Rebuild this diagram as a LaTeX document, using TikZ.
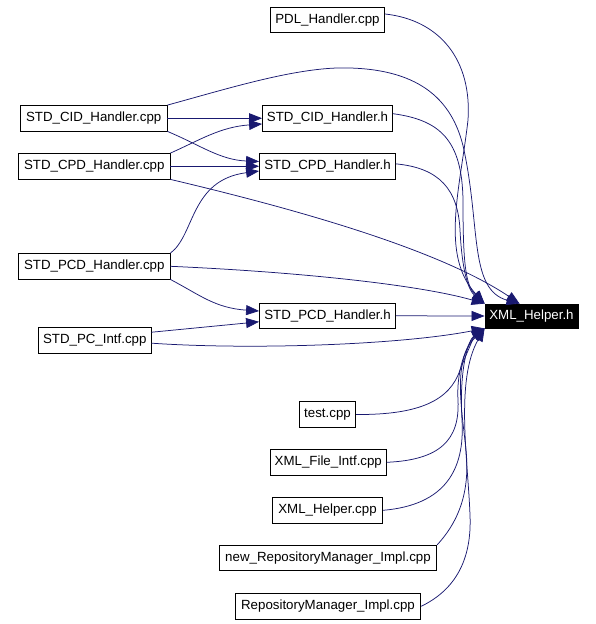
\documentclass[tikz,border=0pt]{standalone}
\usepackage{fontspec}
\setmainfont{Liberation Sans}
\usetikzlibrary{arrows.meta}
\definecolor{edgeblue}{RGB}{25,25,112}
\tikzset{
  box/.style={draw=black, line width=0.8pt, inner sep=0pt, minimum height=25.5pt,
    font=\fontsize{13.3}{16}\selectfont, text=black},
  target/.style={box, fill=black, text=white, minimum height=24pt},
  dep/.style={draw=edgeblue, line width=0.75pt, -{Triangle[length=13pt,width=10pt]}},
}
\begin{document}
\begin{tikzpicture}[x=1pt,y=-1pt]
\useasboundingbox (0,0) rectangle (595,624);
% nodes
\node[box, minimum width=114pt]   (pdl)    at (327.5,20)    {PDL\_Handler.cpp};
\node[box, minimum width=146.5pt] (cidcpp) at (93.75,118.25) {STD\_CID\_Handler.cpp};
\node[box, minimum width=151.5pt] (cpdcpp) at (94.25,166.25) {STD\_CPD\_Handler.cpp};
\node[box, minimum width=130pt]   (cidh)   at (327.5,118.25) {STD\_CID\_Handler.h};
\node[box, minimum width=136pt]   (cpdh)   at (327.5,166.25) {STD\_CPD\_Handler.h};
\node[box, minimum width=151.5pt] (pcdcpp) at (94.25,266.3)  {STD\_PCD\_Handler.cpp};
\node[box, minimum width=112.5pt] (pcintf) at (94.75,340.2)  {STD\_PC\_Intf.cpp};
\node[box, minimum width=136pt]   (pcdh)   at (327.5,315.8)  {STD\_PCD\_Handler.h};
\node[target, minimum width=93pt] (xh)     at (531.5,316)    {XML\_Helper.h};
\node[box, minimum width=56.5pt]  (test)   at (327.5,414.5)  {test.cpp};
\node[box, minimum width=116pt]   (xfile)  at (328.3,462.3)  {XML\_File\_Intf.cpp};
\node[box, minimum width=110.5pt] (xhcpp)  at (327.5,510.3)  {XML\_Helper.cpp};
\node[box, minimum width=217.5pt] (newrepo) at (328,558)     {new\_RepositoryManager\_Impl.cpp};
\node[box, minimum width=185.5pt] (repo)   at (328,606.3)    {RepositoryManager\_Impl.cpp};
% edges
\draw[dep] (pdl.6) .. controls (440,20) and (472,60) .. (468,120)
           .. controls (460,190) and (440,255) .. (xh.north west);
\draw[dep] (cidcpp.east) -- (cidh.west);
\draw[dep] (cidcpp.south east) .. controls (200,145) and (220,160) .. (cpdh.176);
\draw[dep] (cidcpp.north east) .. controls (230,88) and (300,66) .. (350,68)
           .. controls (420,70) and (455,100) .. (465,155)
           .. controls (480,230) and (470,290) .. (xh.134);
\draw[dep] (cpdcpp.north east) .. controls (200,140) and (220,127) .. (cidh.185);
\draw[dep] (cpdcpp.east) -- (cpdh.west);
\draw[dep] (cpdcpp.south east) .. controls (300,210) and (440,250) .. (xh.134);
\draw[dep] (cidh.4) .. controls (440,120) and (462,140) .. (463,200)
           .. controls (463,260) and (465,285) .. (xh.north west);
\draw[dep] (cpdh.2) .. controls (440,168) and (458,190) .. (460,230)
           .. controls (462,270) and (468,290) .. (xh.north west);
\draw[dep] (pcdcpp.north east) .. controls (195,235) and (190,180) .. (cpdh.184);
\draw[dep] (pcdcpp.east) .. controls (300,272) and (420,285) .. (xh.north west);
\draw[dep] (pcdcpp.south east) .. controls (200,295) and (215,308) .. (pcdh.176);
\draw[dep] (pcintf.8) -- (pcdh.185);
\draw[dep] (pcintf.-3) .. controls (250,350) and (400,345) .. (xh.south west);
\draw[dep] (pcdh.east) -- (xh.west);
\draw[dep] (test.east) .. controls (420,415) and (450,400) .. (460,370)
           .. controls (468,350) and (475,335) .. (xh.south west);
\draw[dep] (xfile.east) .. controls (440,460) and (460,440) .. (458,400)
           .. controls (456,365) and (470,340) .. (xh.south west);
\draw[dep] (xhcpp.east) .. controls (445,505) and (465,470) .. (462,420)
           .. controls (459,370) and (468,340) .. (xh.south west);
\draw[dep] (newrepo.north east) .. controls (460,520) and (470,490) .. (466,450)
           .. controls (462,410) and (452,360) .. (xh.south west);
\draw[dep] (repo.east) .. controls (455,590) and (472,560) .. (470,515)
           .. controls (468,460) and (455,380) .. (xh.south west);
\end{tikzpicture}
\end{document}
